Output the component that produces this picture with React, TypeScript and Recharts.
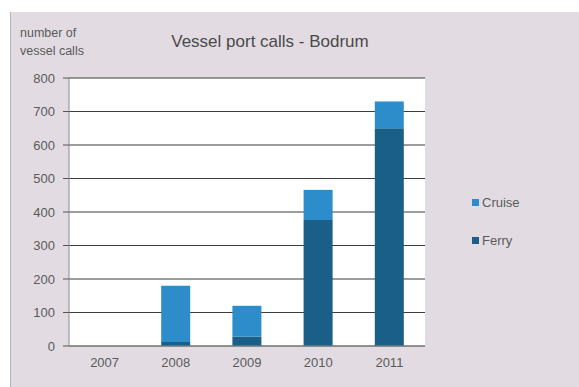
import React from "react";
import { BarChart, Bar, XAxis, YAxis, CartesianGrid, Legend } from "recharts";

const years = ["2007", "2008", "2009", "2010", "2011"];
const ferry = [0, 12, 28, 376, 650];
const cruise = [0, 168, 92, 90, 80];
const yTicks = [0, 100, 200, 300, 400, 500, 600, 700, 800];

const rows = years.map((year, i) => ({ year, Ferry: ferry[i], Cruise: cruise[i] }));

const FONT = "'Liberation Sans', 'DejaVu Sans', sans-serif";
const TEXT = "#5a5a5a";
const CRUISE = "#2d8dcb";
const FERRY = "#195f87";

// Legend stacked vertically with Cruise listed above Ferry
const LegendBox = (props: any) => {
  const items = [...(props.payload || [])].sort((a: any, b: any) =>
    a.value === "Cruise" ? -1 : b.value === "Cruise" ? 1 : 0
  );
  return (
    <div style={{ fontFamily: FONT, fontSize: 13, color: TEXT }}>
      {items.map((it: any) => (
        <div key={it.value} style={{ display: "flex", alignItems: "center", height: 38 }}>
          <span style={{ width: 7, height: 7, background: it.color, marginRight: 3 }} />
          <span>{it.value}</span>
        </div>
      ))}
    </div>
  );
};

export default function App() {
  return (
    <div style={{ position: "absolute", left: 0, top: 0, width: 579, height: 387, background: "#ffffff", overflow: "hidden" }}>
      <div
        style={{
          position: "absolute",
          left: 10,
          top: 12,
          width: 569,
          height: 375,
          background: "#e2dce2",
          borderLeft: "1px solid #b9b4b9",
        }}
      />
      <div style={{ position: "absolute", left: 20, top: 24, fontFamily: FONT, fontSize: 12.5, color: TEXT, lineHeight: "18px" }}>
        number of
        <br />
        vessel calls
      </div>
      <div style={{ position: "absolute", left: 150, top: 32, width: 240, textAlign: "center", fontFamily: FONT, fontSize: 17, color: "#4a4a4a" }}>
        Vessel port calls - Bodrum
      </div>
      <div style={{ position: "absolute", left: 0, top: 0 }}>
        <BarChart width={579} height={387} data={rows} margin={{ top: 78, right: 154, bottom: 16, left: 29 }} barSize={29}>
          <CartesianGrid vertical={false} stroke="#3d3d3d" fill="#ffffff" strokeWidth={1.2} />
          <XAxis
            dataKey="year"
            height={25}
            tick={{ fill: TEXT, fontSize: 13, fontFamily: FONT }}
            tickMargin={6}
            axisLine={{ stroke: "#8a8a8a" }}
            tickLine={false}
          />
          <YAxis
            width={40}
            domain={[0, 800]}
            ticks={yTicks}
            interval={0}
            tick={{ fill: TEXT, fontSize: 13, fontFamily: FONT }}
            tickMargin={8}
            tickSize={6}
            axisLine={{ stroke: "#8a8a8a" }}
            tickLine={{ stroke: "#555" }}
          />
          <Legend
            layout="horizontal"
            align="center"
            verticalAlign="middle"
            content={<LegendBox />}
            wrapperStyle={{ left: 472, top: 183, width: 80 }}
          />
          <Bar dataKey="Ferry" stackId="v" fill={FERRY} isAnimationActive={false} />
          <Bar dataKey="Cruise" stackId="v" fill={CRUISE} isAnimationActive={false} />
        </BarChart>
      </div>
    </div>
  );
}
